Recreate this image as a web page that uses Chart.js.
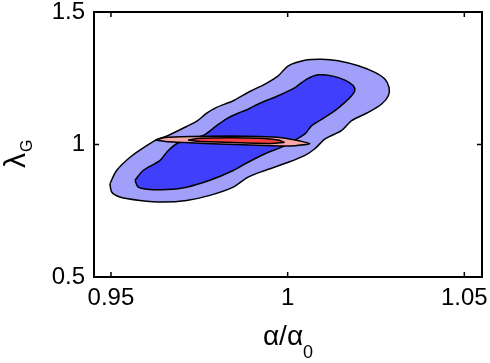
<!DOCTYPE html>
<html lang="en">
<head>
  <meta charset="UTF-8" />
  <title>alpha / lambda_G contours</title>
  <script src="https://cdn.jsdelivr.net/npm/chart.js"></script>
  <style>
    body {
      margin: 0;
      background: #fff;
    }
    #wrap {
      width: 490px;
      height: 363px;
    }
  </style>
</head>
<body>
  <div id="wrap"><canvas id="contours" width="490" height="363"></canvas></div>

  <script>
    // axis ranges and ticks
    const xRange = [0.9452, 1.055];
    const yRange = [0.5, 1.5];
    const xTicks = [0.95, 1, 1.05];
    const xTickLabels = ['0.95', '1', '1.05'];
    const yTicks = [0.5, 1, 1.5];
    const yTickLabels = ['0.5', '1', '1.5'];

    // blue: outer (light) and inner (dark) contour, [alpha/alpha0, lambda_G]
    const blueOuter = [
      [0.9497, 0.852], [0.9502, 0.821], [0.9525, 0.802], [0.9582, 0.789], [0.9648, 0.783],
      [0.9714, 0.789], [0.9780, 0.808], [0.9846, 0.839], [0.9888, 0.877], [0.9936, 0.902],
      [1.0002, 0.933], [1.0049, 0.959], [1.0077, 0.984], [1.0106, 1.021], [1.0153, 1.053],
      [1.0181, 1.090], [1.0228, 1.121], [1.0266, 1.153], [1.0285, 1.184], [1.0287, 1.215],
      [1.0275, 1.247], [1.0247, 1.272], [1.0200, 1.297], [1.0143, 1.316], [1.0096, 1.322],
      [1.0049, 1.318], [1.0002, 1.297], [0.9973, 1.259], [0.9936, 1.228], [0.9893, 1.200],
      [0.9846, 1.165], [0.9799, 1.140], [0.9771, 1.118], [0.9743, 1.088], [0.9714, 1.068],
      [0.9662, 1.034], [0.9634, 1.021], [0.9601, 0.996], [0.9554, 0.952], [0.9516, 0.902],
      [0.9497, 0.852]
    ];
    const blueInner = [
      [0.9568, 0.865], [0.9577, 0.839], [0.9610, 0.830], [0.9658, 0.830], [0.9714, 0.839],
      [0.9780, 0.865], [0.9846, 0.902], [0.9888, 0.933], [0.9936, 0.965], [0.9992, 0.996],
      [1.0049, 1.040], [1.0068, 1.071], [1.0106, 1.103], [1.0134, 1.128], [1.0162, 1.159],
      [1.0181, 1.184], [1.0190, 1.203], [1.0186, 1.222], [1.0162, 1.243], [1.0125, 1.259],
      [1.0087, 1.263], [1.0054, 1.247], [1.0021, 1.215], [0.9973, 1.184], [0.9917, 1.153],
      [0.9888, 1.133], [0.9865, 1.121], [0.9827, 1.097], [0.9799, 1.071], [0.9761, 1.034],
      [0.9686, 1.003], [0.9658, 0.971], [0.9639, 0.940], [0.9591, 0.902], [0.9568, 0.865]
    ];

    // red: outer (pink) and inner (red) contour
    const redOuter = [
      [0.9625, 1.0169], [0.9653, 1.0263], [0.9724, 1.0301], [0.9837, 1.0320], [0.9922, 1.0301],
      [0.9978, 1.0263], [1.0021, 1.0169], [1.0063, 1.0026], [1.0021, 0.9955], [0.9978, 0.9944],
      [0.9893, 0.9981], [0.9808, 1.0019], [0.9724, 1.0064], [0.9653, 1.0113], [0.9625, 1.0169]
    ];
    const redInner = [
      [0.9718, 1.0169], [0.9752, 1.0233], [0.9837, 1.0252], [0.9922, 1.0233], [0.9973, 1.0169],
      [0.9990, 1.0083], [0.9950, 1.0038], [0.9865, 1.0064], [0.9780, 1.0102], [0.9738, 1.0132],
      [0.9718, 1.0169]
    ];

    const FONT = '"Liberation Sans", Arial, Helvetica, sans-serif';

    function contour(points, color, order, tension) {
      return {
        data: points.map(p => ({x: p[0], y: p[1]})),
        showLine: true,
        fill: 'shape',
        backgroundColor: color,
        borderColor: '#000',
        borderWidth: 1.5,
        pointRadius: 0,
        tension: tension,
        order: order
      };
    }

    // box, inward ticks and axis titles with subscripts
    const frame = {
      id: 'frame',
      afterDraw(chart) {
        const {ctx, chartArea: a, scales: {x, y}} = chart;
        ctx.save();
        ctx.strokeStyle = '#000';
        ctx.lineWidth = 2;
        ctx.strokeRect(a.left, a.top, a.right - a.left, a.bottom - a.top);

        ctx.lineWidth = 1.5;
        ctx.beginPath();
        xTicks.forEach(v => {
          const px = x.getPixelForValue(v);
          ctx.moveTo(px, a.bottom); ctx.lineTo(px, a.bottom - 5);
          ctx.moveTo(px, a.top); ctx.lineTo(px, a.top + 5);
        });
        yTicks.forEach(v => {
          const py = y.getPixelForValue(v);
          ctx.moveTo(a.left, py); ctx.lineTo(a.left + 5, py);
          ctx.moveTo(a.right, py); ctx.lineTo(a.right - 5, py);
        });
        ctx.stroke();

        ctx.fillStyle = '#000';
        ctx.textAlign = 'left';
        ctx.textBaseline = 'alphabetic';

        // x title: alpha / alpha_0
        ctx.font = '28px ' + FONT;
        const main = 'α/α';
        const w1 = ctx.measureText(main).width;
        ctx.font = '18px ' + FONT;
        const w2 = ctx.measureText('0').width;
        const x0 = (a.left + a.right) / 2 - (w1 + w2) / 2;
        ctx.font = '28px ' + FONT;
        ctx.fillText(main, x0, 345);
        ctx.font = '18px ' + FONT;
        ctx.fillText('0', x0 + w1, 358);

        // y title: lambda_G
        ctx.translate(25, 168);
        ctx.rotate(-Math.PI / 2);
        ctx.font = '30px ' + FONT;
        const wl = ctx.measureText('λ').width;
        ctx.fillText('λ', 0, 0);
        ctx.font = '16px ' + FONT;
        ctx.fillText('G', wl + 1, 7);
        ctx.restore();
      }
    };

    new Chart(document.getElementById('contours'), {
      type: 'scatter',
      data: {
        datasets: [
          contour(blueOuter, '#a0a0fa', 4, 0.3),
          contour(blueInner, '#4040fc', 3, 0.3),
          contour(redOuter, '#f8a8a8', 2, 0.15),
          contour(redInner, '#fc4040', 1, 0.15)
        ]
      },
      options: {
        responsive: false,
        animation: false,
        layout: {padding: {top: 12, right: 8, left: 0, bottom: 0}},
        plugins: {legend: {display: false}, tooltip: {enabled: false}},
        scales: {
          x: {
            type: 'linear',
            min: xRange[0],
            max: xRange[1],
            grid: {display: false, drawTicks: false},
            border: {display: false},
            afterBuildTicks: s => { s.ticks = xTicks.map(v => ({value: v})); },
            afterFit: s => { s.height = 86; s.paddingLeft = 0; s.paddingRight = 0; },
            ticks: {
              padding: 7,
              color: '#000',
              font: {family: FONT, size: 24},
              maxRotation: 0,
              callback: (v) => xTickLabels[xTicks.indexOf(v)]
            }
          },
          y: {
            type: 'linear',
            min: yRange[0],
            max: yRange[1],
            grid: {display: false, drawTicks: false},
            border: {display: false},
            afterBuildTicks: s => { s.ticks = yTicks.map(v => ({value: v})); },
            afterFit: s => { s.width = 94; s.paddingTop = 0; s.paddingBottom = 0; },
            ticks: {
              padding: 9,
              color: '#000',
              font: {family: FONT, size: 24, lineHeight: 1},
              callback: (v) => yTickLabels[yTicks.indexOf(v)]
            }
          }
        }
      },
      plugins: [frame]
    });
  </script>
</body>
</html>
